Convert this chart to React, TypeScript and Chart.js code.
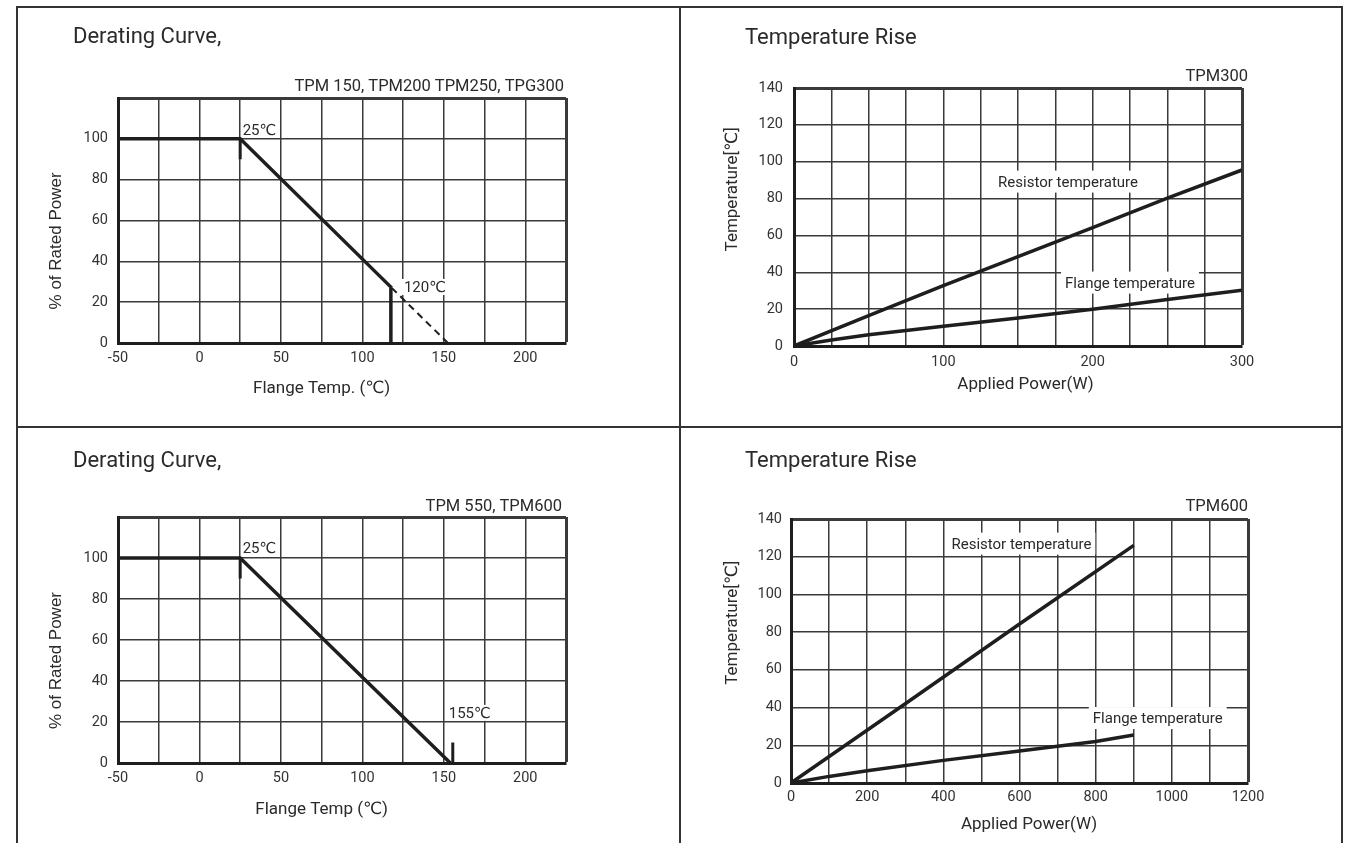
import React, { useEffect, useRef } from "react";
import { Chart, registerables } from "chart.js";

Chart.register(...registerables);

// ---------------- data ----------------
// Derating curve – TPM 150, TPM200, TPM250, TPG300
const derateA_temp = [-50, 25, 118];
const derateA_power = [100, 100, 27];
const derateA_extTemp = [118, 152.5];
const derateA_extPower = [27, 0];
const derateA_markTemp = [25, 25];
const derateA_markPower = [100, 90];
const derateA_limitTemp = [117.5, 117.5];
const derateA_limitPower = [27, 0];

// Derating curve – TPM 550, TPM600
const derateB_temp = [-50, 25, 154];
const derateB_power = [100, 100, 0];
const derateB_markTemp = [25, 25];
const derateB_markPower = [100, 90];
const derateB_limitTemp = [155.5, 155.5];
const derateB_limitPower = [0, 10];

// Temperature rise – TPM300
const rise300_power = [0, 50, 100, 150, 200, 250, 300];
const rise300_resistor = [0, 16.5, 32.8, 48.5, 64.2, 80.2, 95.5];
const rise300_flangePower = [0, 25, 50, 100, 150, 200, 250, 300];
const rise300_flange = [0, 3.3, 6.1, 10.7, 15.2, 20, 25.2, 30.2];

// Temperature rise – TPM600
const rise600_power = [0, 300, 600, 900];
const rise600_resistor = [0, 42, 84.3, 126];
const rise600_flangePower = [0, 100, 200, 400, 600, 800, 900];
const rise600_flange = [0, 3.5, 6.5, 12, 17, 22, 25.5];

// tick labels
const derateXLabels = [-50, 0, 50, 100, 150, 200];
const derateYLabels = [0, 20, 40, 60, 80, 100];
const rise300XLabels = [0, 100, 200, 300];
const rise600XLabels = [0, 200, 400, 600, 800, 1000, 1200];
const riseYLabels = [0, 20, 40, 60, 80, 100, 120, 140];

// ---------------- style ----------------
const INK = "#1e1e1e";
const GRID = "#3a3a3a";
const TXT = "#2a2a2a";
const SANS = 'Roboto, "DejaVu Sans", sans-serif';
const ARIAL = '"Liberation Sans", Arial, sans-serif';
const f = (size: number, fam = SANS) => `${size}px ${fam}`;

type Note = {
  text: string;
  x: number;
  y: number;
  xs: "data" | "px";
  ys: "data" | "px";
  font: string;
  align: CanvasTextAlign;
  base: CanvasTextBaseline;
  rot?: number;
  bg?: number[];
};

type Series = { xs: number[]; ys: number[]; width: number; dash?: number[] };

type AxisCfg = { min: number; max: number; step: number; labels: number[]; padding: number };

type PanelCfg = {
  left: number;
  top: number;
  w: number;
  h: number;
  padTop: number;
  padRight: number;
  yWidth: number;
  xHeight: number;
  x: AxisCfg;
  y: AxisCfg;
  series: Series[];
  notes: Note[];
};

function notesPlugin(items: Note[]) {
  return {
    id: "notes",
    beforeDatasetsDraw(chart: any) {
      const ctx: CanvasRenderingContext2D = chart.ctx;
      for (const n of items) {
        const px = n.xs === "data" ? chart.scales.x.getPixelForValue(n.x) : n.x;
        const py = n.ys === "data" ? chart.scales.y.getPixelForValue(n.y) : n.y;
        ctx.save();
        ctx.font = n.font;
        ctx.translate(px, py);
        if (n.rot) ctx.rotate(n.rot);
        ctx.textAlign = n.align;
        ctx.textBaseline = n.base;
        if (n.bg) {
          const w = ctx.measureText(n.text).width;
          const x0 = n.align === "center" ? -w / 2 : n.align === "right" ? -w : 0;
          ctx.fillStyle = "#ffffff";
          ctx.fillRect(x0 - n.bg[0], -n.bg[1], w + 2 * n.bg[0], n.bg[1] + n.bg[2]);
        }
        ctx.fillStyle = TXT;
        ctx.fillText(n.text, 0, 0);
        ctx.restore();
      }
    },
  };
}

function axis(a: AxisCfg, fit: (s: any) => void) {
  return {
    type: "linear",
    min: a.min,
    max: a.max,
    afterFit: fit,
    ticks: {
      stepSize: a.step,
      autoSkip: false,
      maxRotation: 0,
      padding: a.padding,
      color: "#333",
      font: { family: SANS, size: 14.5 },
      callback: (v: number) => (a.labels.includes(v) ? String(v) : ""),
    },
    grid: {
      color: GRID,
      drawTicks: false,
      lineWidth: (c: any) => (c.tick && c.tick.value === a.max ? 3 : 1.5),
    },
    border: { display: true, color: INK, width: 3 },
  };
}

function ChartPanel({ cfg }: { cfg: PanelCfg }) {
  const ref = useRef<HTMLCanvasElement>(null);
  useEffect(() => {
    const chart = new Chart(ref.current as HTMLCanvasElement, {
      type: "line",
      data: {
        datasets: cfg.series.map((s) => ({
          data: s.xs.map((x, i) => ({ x, y: s.ys[i] })),
          borderColor: INK,
          borderWidth: s.width,
          borderDash: s.dash || [],
          borderCapStyle: "butt",
          pointRadius: 0,
          pointHoverRadius: 0,
          fill: false,
          tension: 0,
        })),
      } as any,
      options: {
        responsive: false,
        animation: false,
        events: [],
        layout: { padding: { left: 0, top: cfg.padTop, right: cfg.padRight, bottom: 0 } },
        plugins: {
          legend: { display: false },
          tooltip: { enabled: false },
          title: { display: false },
        },
        scales: {
          x: axis(cfg.x, (s: any) => {
            s.height = cfg.xHeight;
          }),
          y: axis(cfg.y, (s: any) => {
            s.width = cfg.yWidth;
          }),
        } as any,
      },
      plugins: [notesPlugin(cfg.notes)],
    } as any);
    return () => chart.destroy();
  }, []);
  return (
    <canvas
      ref={ref}
      width={cfg.w}
      height={cfg.h}
      style={{ position: "absolute", left: cfg.left, top: cfg.top, width: cfg.w, height: cfg.h }}
    />
  );
}

const ROT = -Math.PI / 2;

const panels: PanelCfg[] = [
  {
    left: 18, top: 8, w: 661, h: 418, padTop: 90, padRight: 113, yWidth: 100, xHeight: 83,
    x: { min: -50, max: 225, step: 25, labels: derateXLabels, padding: 7 },
    y: { min: 0, max: 120, step: 20, labels: derateYLabels, padding: 10 },
    series: [
      { xs: derateA_temp, ys: derateA_power, width: 3.5 },
      { xs: derateA_extTemp, ys: derateA_extPower, width: 2, dash: [7, 5] },
      { xs: derateA_markTemp, ys: derateA_markPower, width: 3 },
      { xs: derateA_limitTemp, ys: derateA_limitPower, width: 3.5 },
    ],
    notes: [
      { text: "Derating Curve,", x: 55, y: 35, xs: "px", ys: "px", font: f(22), align: "left", base: "alphabetic" },
      { text: "TPM 150, TPM200 TPM250, TPG300", x: 546, y: 83, xs: "px", ys: "px", font: f(16.5), align: "right", base: "alphabetic" },
      { text: "Flange Temp. (℃)", x: 75, y: 385, xs: "data", ys: "px", font: f(17), align: "center", base: "alphabetic" },
      { text: "% of Rated Power", x: 38.4, y: 50, xs: "px", ys: "data", font: f(17, ARIAL), align: "center", base: "middle", rot: ROT },
      { text: "25℃", x: 26.5, y: 102, xs: "data", ys: "data", font: f(15), align: "left", base: "alphabetic", bg: [1, 13, 3] },
      { text: "120℃", x: 125.5, y: 25, xs: "data", ys: "data", font: f(15), align: "left", base: "alphabetic", bg: [2, 13, 3] },
    ],
  },
  {
    left: 681, top: 8, w: 660, h: 418, padTop: 80, padRight: 99, yWidth: 113, xHeight: 80,
    x: { min: 0, max: 300, step: 25, labels: rise300XLabels, padding: 8 },
    y: { min: 0, max: 140, step: 20, labels: riseYLabels, padding: 11 },
    series: [
      { xs: rise300_power, ys: rise300_resistor, width: 3.5 },
      { xs: rise300_flangePower, ys: rise300_flange, width: 3.5 },
    ],
    notes: [
      { text: "Temperature Rise", x: 64, y: 36, xs: "px", ys: "px", font: f(22), align: "left", base: "alphabetic" },
      { text: "TPM300", x: 567, y: 73, xs: "px", ys: "px", font: f(16.5), align: "right", base: "alphabetic" },
      { text: "Applied Power(W)", x: 155, y: 381, xs: "data", ys: "px", font: f(17), align: "center", base: "alphabetic" },
      { text: "Temperature[℃]", x: 52, y: 85, xs: "px", ys: "data", font: f(17), align: "center", base: "middle", rot: ROT },
      { text: "Resistor temperature", x: 183.5, y: 86.5, xs: "data", ys: "data", font: f(15), align: "center", base: "alphabetic", bg: [4, 16, 6] },
      { text: "Flange temperature", x: 225, y: 31.7, xs: "data", ys: "data", font: f(15), align: "center", base: "alphabetic", bg: [4, 16, 6] },
    ],
  },
  {
    left: 18, top: 428, w: 661, h: 415, padTop: 89, padRight: 113, yWidth: 100, xHeight: 80,
    x: { min: -50, max: 225, step: 25, labels: derateXLabels, padding: 7 },
    y: { min: 0, max: 120, step: 20, labels: derateYLabels, padding: 10 },
    series: [
      { xs: derateB_temp, ys: derateB_power, width: 3.5 },
      { xs: derateB_markTemp, ys: derateB_markPower, width: 3 },
      { xs: derateB_limitTemp, ys: derateB_limitPower, width: 3 },
    ],
    notes: [
      { text: "Derating Curve,", x: 55, y: 39, xs: "px", ys: "px", font: f(22), align: "left", base: "alphabetic" },
      { text: "TPM 550, TPM600", x: 544, y: 83, xs: "px", ys: "px", font: f(16.5), align: "right", base: "alphabetic" },
      { text: "Flange Temp (℃)", x: 75, y: 386, xs: "data", ys: "px", font: f(17), align: "center", base: "alphabetic" },
      { text: "% of Rated Power", x: 38.4, y: 50, xs: "px", ys: "data", font: f(17, ARIAL), align: "center", base: "middle", rot: ROT },
      { text: "25℃", x: 26.5, y: 102.4, xs: "data", ys: "data", font: f(15), align: "left", base: "alphabetic", bg: [1, 13, 3] },
      { text: "155℃", x: 153, y: 22, xs: "data", ys: "data", font: f(15), align: "left", base: "alphabetic", bg: [1, 13, 3] },
    ],
  },
  {
    left: 681, top: 428, w: 660, h: 415, padTop: 91, padRight: 93, yWidth: 110, xHeight: 60,
    x: { min: 0, max: 1200, step: 100, labels: rise600XLabels, padding: 6 },
    y: { min: 0, max: 140, step: 20, labels: riseYLabels, padding: 9 },
    series: [
      { xs: rise600_power, ys: rise600_resistor, width: 3.5 },
      { xs: rise600_flangePower, ys: rise600_flange, width: 3.5 },
    ],
    notes: [
      { text: "Temperature Rise", x: 64, y: 39, xs: "px", ys: "px", font: f(22), align: "left", base: "alphabetic" },
      { text: "TPM600", x: 567, y: 83, xs: "px", ys: "px", font: f(16.5), align: "right", base: "alphabetic" },
      { text: "Applied Power(W)", x: 625, y: 401, xs: "data", ys: "px", font: f(17), align: "center", base: "alphabetic" },
      { text: "Temperature[℃]", x: 52, y: 85, xs: "px", ys: "data", font: f(17), align: "center", base: "middle", rot: ROT },
      { text: "Resistor temperature", x: 605, y: 124.3, xs: "data", ys: "data", font: f(15), align: "center", base: "alphabetic", bg: [4, 16, 6] },
      { text: "Flange temperature", x: 963, y: 31.8, xs: "data", ys: "data", font: f(15), align: "center", base: "alphabetic", bg: [4, 16, 6] },
    ],
  },
];

const LINE = "#333333";
const rules: { left: number; top: number; width: number; height: number }[] = [
  { left: 16, top: 6, width: 2, height: 837 },
  { left: 16, top: 6, width: 1327, height: 2 },
  { left: 1341, top: 6, width: 2, height: 837 },
  { left: 679, top: 6, width: 2, height: 837 },
  { left: 16, top: 426, width: 1327, height: 2 },
];

export default function App() {
  return (
    <div
      style={{
        position: "absolute",
        left: 0,
        top: 0,
        width: 1351,
        height: 843,
        background: "#ffffff",
        overflow: "hidden",
      }}
    >
      {rules.map((r, i) => (
        <div key={i} style={{ position: "absolute", background: LINE, ...r }} />
      ))}
      {panels.map((p, i) => (
        <ChartPanel key={i} cfg={p} />
      ))}
    </div>
  );
}
